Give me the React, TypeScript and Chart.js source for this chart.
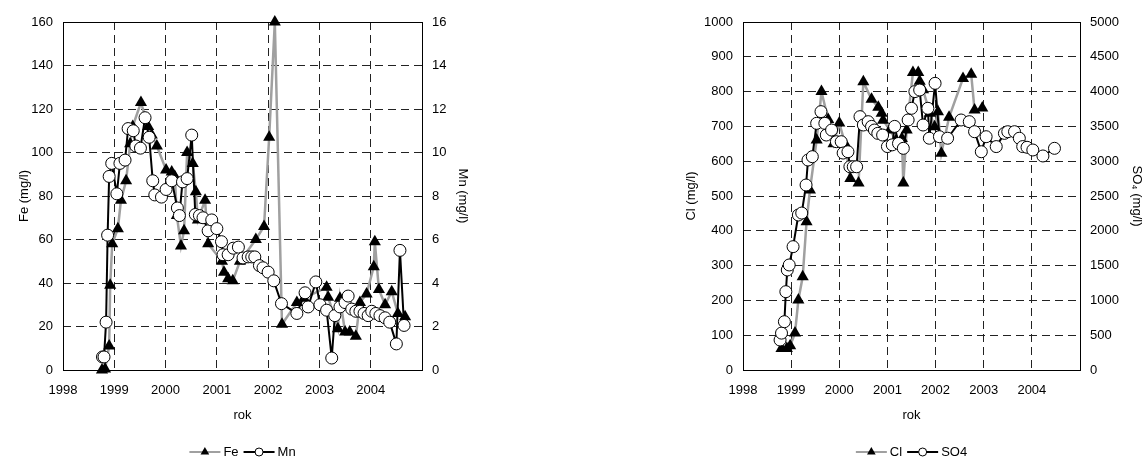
import React, { useEffect, useRef } from 'react';
import { Chart, registerables } from 'chart.js';

Chart.register(...registerables);

const FONT_FAMILY = '"Liberation Sans", Arial, sans-serif';

// ---- Left chart: Fe (mg/l, left axis) and Mn (mg/l, right axis) ----
const feYears = [1998.76, 1998.82, 1998.90, 1998.92, 1998.96, 1999.07, 1999.13, 1999.23, 1999.31, 1999.36, 1999.52, 1999.66, 1999.73, 1999.83, 2000.01, 2000.12, 2000.18, 2000.22, 2000.30, 2000.36, 2000.42, 2000.53, 2000.59, 2000.63, 2000.77, 2000.83, 2001.10, 2001.14, 2001.22, 2001.31, 2001.45, 2001.76, 2001.92, 2002.02, 2002.13, 2002.27, 2002.56, 2002.70, 2003.14, 2003.17, 2003.36, 2003.40, 2003.50, 2003.59, 2003.71, 2003.79, 2003.92, 2004.06, 2004.08, 2004.16, 2004.28, 2004.41, 2004.53, 2004.67];
const feValues = [0, 0.5, 11, 39, 58, 65, 78, 87, 104, 112, 123, 112, 108, 103, 92, 91, 89, 71, 57, 64, 100, 95, 82, 69, 78, 58, 50, 45, 42, 41, 50, 60, 66, 107, 160, 21, 31, 33, 38, 33.5, 19, 33, 17.5, 17.5, 15.5, 31, 35, 47.5, 59, 37, 30, 36, 26, 24.5];

const mnYears = [1998.77, 1998.80, 1998.84, 1998.87, 1998.90, 1998.95, 1999.05, 1999.11, 1999.21, 1999.27, 1999.37, 1999.42, 1999.51, 1999.60, 1999.68, 1999.75, 1999.79, 1999.92, 2000.01, 2000.12, 2000.23, 2000.27, 2000.33, 2000.42, 2000.51, 2000.58, 2000.66, 2000.73, 2000.83, 2000.90, 2001.00, 2001.09, 2001.12, 2001.22, 2001.32, 2001.42, 2001.51, 2001.61, 2001.68, 2001.74, 2001.83, 2001.90, 2002.00, 2002.11, 2002.26, 2002.56, 2002.72, 2002.78, 2002.93, 2003.01, 2003.14, 2003.24, 2003.30, 2003.40, 2003.50, 2003.56, 2003.63, 2003.71, 2003.79, 2003.87, 2003.95, 2004.02, 2004.10, 2004.18, 2004.28, 2004.37, 2004.50, 2004.57, 2004.65];
const mnValues = [0.6, 0.6, 2.2, 6.2, 8.9, 9.5, 8.1, 9.5, 9.65, 11.1, 11.0, 10.3, 10.2, 11.6, 10.7, 8.7, 8.05, 7.95, 8.3, 8.7, 7.45, 7.1, 8.65, 8.8, 10.8, 7.15, 7.1, 7.0, 6.4, 6.9, 6.5, 5.9, 5.3, 5.3, 5.6, 5.65, 5.15, 5.2, 5.2, 5.2, 4.8, 4.7, 4.5, 4.1, 3.05, 2.6, 3.55, 2.9, 4.05, 3.0, 2.75, 0.55, 2.5, 2.9, 3.1, 3.4, 2.8, 2.7, 2.7, 2.6, 2.5, 2.7, 2.6, 2.5, 2.4, 2.2, 1.2, 5.5, 2.05];

// ---- Right chart: Cl (mg/l, left axis) and SO4 (mg/l, right axis) ----
const clYears = [1998.80, 1998.91, 1998.98, 1999.08, 1999.15, 1999.24, 1999.32, 1999.39, 1999.53, 1999.63, 1999.77, 1999.88, 2000.00, 2000.12, 2000.23, 2000.40, 2000.50, 2000.67, 2000.81, 2000.88, 2000.91, 2001.05, 2001.18, 2001.30, 2001.33, 2001.40, 2001.53, 2001.64, 2001.67, 2001.74, 2001.88, 2001.98, 2002.05, 2002.12, 2002.28, 2002.57, 2002.74, 2002.81, 2002.97];
const clValues = [62, 62, 70, 106, 201, 268, 426, 517, 661, 800, 720, 650, 710, 650, 550, 537, 828, 778, 755, 738, 718, 690, 660, 665, 537, 690, 855, 855, 830, 805, 738, 699, 742, 623, 726, 838, 850, 747, 753];

const so4Years = [1998.77, 1998.80, 1998.86, 1998.89, 1998.92, 1998.96, 1999.04, 1999.15, 1999.22, 1999.31, 1999.35, 1999.44, 1999.53, 1999.62, 1999.70, 1999.73, 1999.84, 1999.94, 2000.04, 2000.08, 2000.18, 2000.22, 2000.29, 2000.36, 2000.43, 2000.50, 2000.60, 2000.67, 2000.73, 2000.80, 2000.90, 2001.00, 2001.10, 2001.15, 2001.23, 2001.33, 2001.43, 2001.50, 2001.57, 2001.67, 2001.74, 2001.84, 2001.87, 2001.99, 2002.08, 2002.25, 2002.53, 2002.70, 2002.81, 2002.95, 2003.05, 2003.26, 2003.43, 2003.50, 2003.64, 2003.74, 2003.81, 2003.90, 2004.02, 2004.23, 2004.47];
const so4Values = [431, 530, 694, 1125, 1437, 1509, 1772, 2227, 2255, 2658, 3017, 3065, 3544, 3712, 3544, 3376, 3448, 3280, 3280, 3117, 3136, 2921, 2921, 2920, 3640, 3520, 3568, 3500, 3448, 3400, 3376, 3210, 3235, 3500, 3255, 3185, 3592, 3760, 4000, 4023, 3520, 3760, 3330, 4119, 3352, 3330, 3592, 3568, 3424, 3136, 3352, 3210, 3400, 3424, 3424, 3330, 3210, 3200, 3161, 3075, 3185];

const xMin = 1998;
const xMax = 2005;
const lastLabeledYear = 2004;

function toPoints(xs: number[], ys: number[]) {
  return xs.map((x, i) => ({ x, y: ys[i] }));
}

const font = { family: FONT_FAMILY, size: 13 };

const framePlugin = {
  id: 'frame',
  beforeDatasetsDraw(chart: any) {
    const { ctx, chartArea } = chart;
    const l = Math.round(chartArea.left) + 0.5;
    const t = Math.round(chartArea.top) + 0.5;
    const r = Math.round(chartArea.right) + 0.5;
    const b = Math.round(chartArea.bottom) + 0.5;
    ctx.save();
    ctx.strokeStyle = '#000';
    ctx.lineWidth = 1;
    ctx.setLineDash([]);
    ctx.strokeRect(l, t, r - l, b - t);
    ctx.restore();
  },
};

type LegendItem = { label: string; line: string; marker: 'triangle' | 'circle' };

function makeLegendPlugin(items: LegendItem[], yCenter: number) {
  return {
    id: 'lineLegend',
    afterDraw(chart: any) {
      const { ctx, chartArea } = chart;
      ctx.save();
      ctx.font = `13px ${FONT_FAMILY}`;
      const seg = 31;
      const gapText = 3;
      const gapItem = 5;
      const widths = items.map((it) => seg + gapText + ctx.measureText(it.label).width);
      const total = widths.reduce((a, b) => a + b, 0) + gapItem * (items.length - 1);
      let x = (chartArea.left + chartArea.right) / 2 - total / 2;
      items.forEach((it, i) => {
        ctx.strokeStyle = it.line;
        ctx.lineWidth = 2;
        ctx.beginPath();
        ctx.moveTo(x, yCenter);
        ctx.lineTo(x + seg, yCenter);
        ctx.stroke();
        const cx = x + seg / 2;
        if (it.marker === 'triangle') {
          const r = 5;
          ctx.fillStyle = '#000';
          ctx.beginPath();
          ctx.moveTo(cx, yCenter - r);
          ctx.lineTo(cx + r * 0.866, yCenter + r * 0.5);
          ctx.lineTo(cx - r * 0.866, yCenter + r * 0.5);
          ctx.closePath();
          ctx.fill();
        } else {
          ctx.fillStyle = '#fff';
          ctx.strokeStyle = '#000';
          ctx.lineWidth = 1;
          ctx.beginPath();
          ctx.arc(cx, yCenter, 4, 0, Math.PI * 2);
          ctx.fill();
          ctx.stroke();
        }
        ctx.fillStyle = '#000';
        ctx.textBaseline = 'middle';
        ctx.textAlign = 'left';
        ctx.fillText(it.label, x + seg + gapText, yCenter);
        x += widths[i] + gapItem;
      });
      ctx.restore();
    },
  };
}

type PanelProps = {
  left: number;
  width: number;
  aLabel: string;
  bLabel: string;
  aXs: number[];
  aYs: number[];
  bXs: number[];
  bYs: number[];
  yMax: number;
  yStep: number;
  y2Max: number;
  y2Step: number;
  yTitle: string;
  y2Title: string;
  yTitlePad: number;
  y2TitlePad: number;
  leftW: number;
  rightW: number;
};

function Panel(p: PanelProps) {
  const ref = useRef<HTMLCanvasElement | null>(null);
  useEffect(() => {
    if (!ref.current) return;
    const chart = new Chart(ref.current, {
      type: 'line',
      data: {
        datasets: [
          {
            label: p.aLabel,
            data: toPoints(p.aXs, p.aYs),
            yAxisID: 'y',
            borderColor: '#a0a0a0',
            borderWidth: 2.5,
            pointStyle: 'triangle',
            pointRadius: 7,
            pointBackgroundColor: '#000',
            pointBorderColor: '#000',
            pointBorderWidth: 0,
            tension: 0,
            order: 1,
            clip: false,
          } as any,
          {
            label: p.bLabel,
            data: toPoints(p.bXs, p.bYs),
            yAxisID: 'y2',
            borderColor: '#000',
            borderWidth: 2,
            pointStyle: 'circle',
            pointRadius: 6,
            pointBackgroundColor: '#fff',
            pointBorderColor: '#000',
            pointBorderWidth: 1,
            tension: 0,
            order: 0,
            clip: false,
          } as any,
        ],
      },
      options: {
        animation: false,
        responsive: false,
        layout: { padding: { top: 22, bottom: 34, left: 0, right: 0 } },
        plugins: { legend: { display: false }, tooltip: { enabled: false } },
        scales: {
          x: {
            type: 'linear',
            min: xMin,
            max: xMax,
            ticks: {
              stepSize: 1,
              autoSkip: false,
              maxRotation: 0,
              font,
              color: '#000',
              padding: 13,
              callback: (v: any) => (Number(v) <= lastLabeledYear ? String(v) : ''),
            },
            grid: {
              color: '#222',
              drawTicks: false,
              lineWidth: (c: any) => (c.tick && (c.tick.value === xMin || c.tick.value === xMax) ? 0 : 1),
            },
            border: { display: false, dash: [8, 5] },
            title: { display: true, text: 'rok', font, color: '#000', padding: { top: 0, bottom: 2 } },
            afterFit: (s: any) => {
              s.height = 55;
            },
          },
          y: {
            type: 'linear',
            position: 'left',
            min: 0,
            max: p.yMax,
            ticks: { stepSize: p.yStep, font, color: '#000', padding: 10, callback: (v: any) => String(v) },
            grid: {
              color: '#222',
              drawTicks: false,
              lineWidth: (c: any) => (c.tick && (c.tick.value === 0 || c.tick.value === p.yMax) ? 0 : 1),
            },
            border: { display: false, dash: [8, 5] },
            title: { display: true, text: p.yTitle, font, color: '#000', padding: { top: p.yTitlePad, bottom: 0 } },
            afterFit: (s: any) => {
              s.width = p.leftW;
            },
          },
          y2: {
            type: 'linear',
            position: 'right',
            min: 0,
            max: p.y2Max,
            ticks: { stepSize: p.y2Step, font, color: '#000', padding: 10, callback: (v: any) => String(v) },
            grid: { drawOnChartArea: false, drawTicks: false },
            border: { display: false },
            title: { display: true, text: p.y2Title, font, color: '#000', padding: { top: p.y2TitlePad, bottom: 0 } },
            afterFit: (s: any) => {
              s.width = p.rightW;
            },
          },
        },
      } as any,
      plugins: [
        framePlugin,
        makeLegendPlugin(
          [
            { label: p.aLabel, line: '#a0a0a0', marker: 'triangle' },
            { label: p.bLabel, line: '#000', marker: 'circle' },
          ],
          452
        ),
      ],
    });
    return () => chart.destroy();
  }, []);
  return (
    <canvas
      ref={ref}
      width={p.width}
      height={459}
      style={{ position: 'absolute', left: p.left, top: 0, width: p.width, height: 459 }}
    />
  );
}

export default function App() {
  return (
    <div style={{ position: 'absolute', left: 0, top: 0, width: 1145, height: 459, background: '#fff' }}>
      <Panel
        left={0}
        width={485}
        aLabel="Fe"
        bLabel="Mn"
        aXs={feYears}
        aYs={feValues}
        bXs={mnYears}
        bYs={mnValues}
        yMax={160}
        yStep={20}
        y2Max={16}
        y2Step={2}
        yTitle="Fe (mg/l)"
        y2Title="Mn (mg/l)"
        yTitlePad={17}
        y2TitlePad={15}
        leftW={63}
        rightW={63}
      />
      <Panel
        left={680}
        width={465}
        aLabel="Cl"
        bLabel="SO4"
        aXs={clYears}
        aYs={clValues}
        bXs={so4Years}
        bYs={so4Values}
        yMax={1000}
        yStep={100}
        y2Max={5000}
        y2Step={500}
        yTitle="Cl (mg/l)"
        y2Title="SO₄ (mg/l)"
        yTitlePad={4}
        y2TitlePad={1}
        leftW={63}
        rightW={65}
      />
    </div>
  );
}
